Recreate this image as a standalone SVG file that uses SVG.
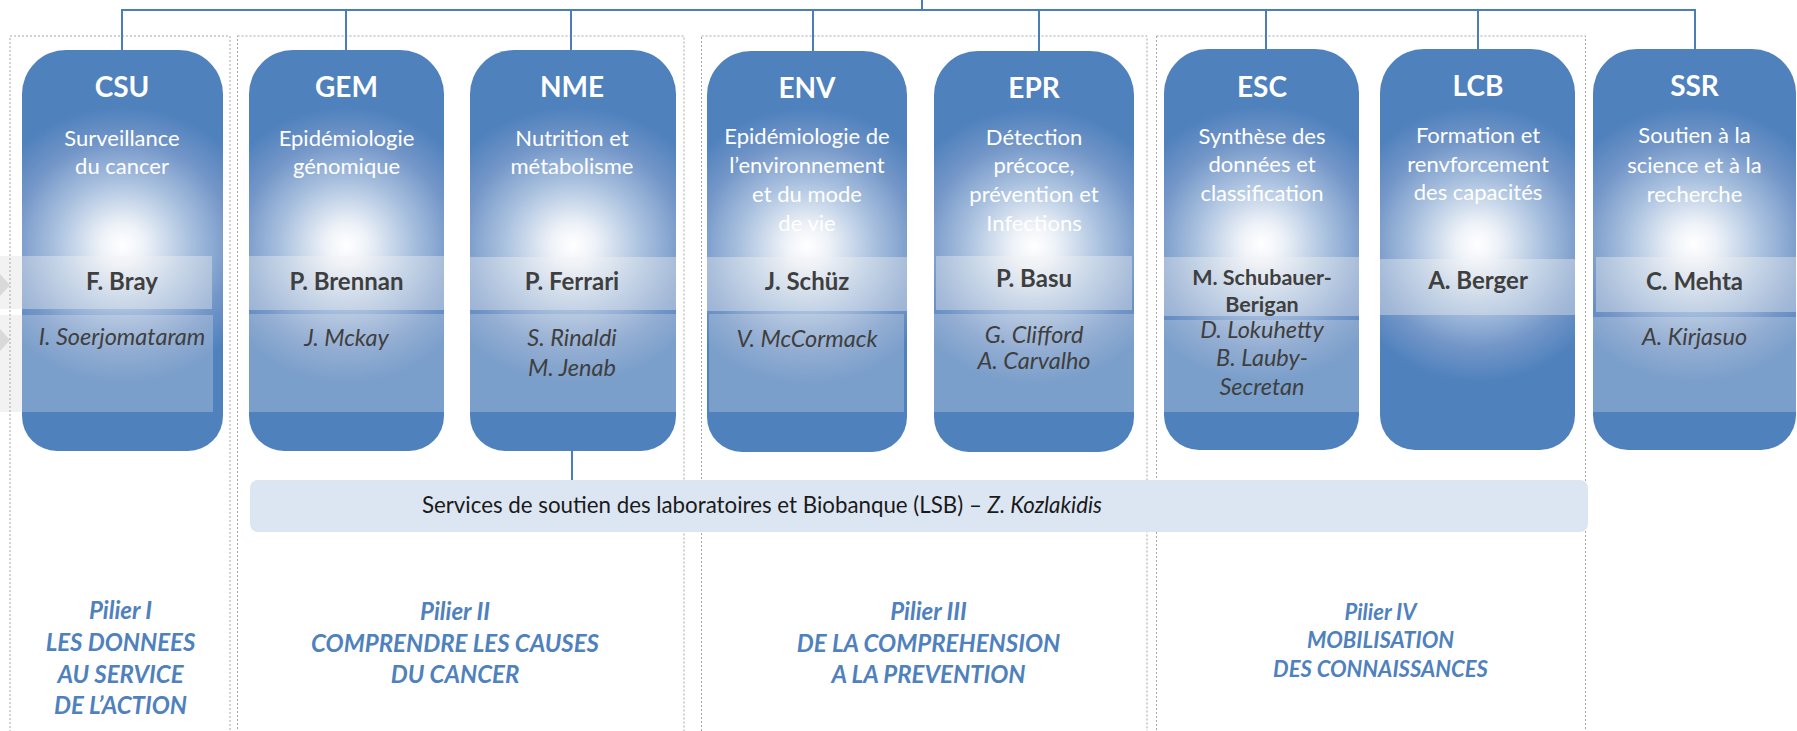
<svg xmlns="http://www.w3.org/2000/svg" width="1797" height="731" viewBox="0 0 1797 731">
<defs>
<radialGradient id="boxGrad" cx="0.5" cy="0.486" r="0.5" gradientTransform="translate(0.5 0.486) scale(1.45 0.69) translate(-0.5 -0.486)">
<stop offset="0" stop-color="#ffffff"/>
<stop offset="0.15" stop-color="#eef2f8"/>
<stop offset="0.45" stop-color="#acc3e0"/>
<stop offset="0.75" stop-color="#7396c8"/>
<stop offset="1" stop-color="#4f81bd"/>
</radialGradient>
<style>
.frame{fill:none;stroke:#a6a6a6;stroke-width:1;stroke-dasharray:2 2}
.conn{fill:none;stroke:#4a7ebb;stroke-width:2}
.box{fill:url(#boxGrad)}
.b1{fill:#f2f2f2;fill-opacity:0.38}
.b2{fill:#f2f2f2;fill-opacity:0.27}
.title{font-family:Lato,"Liberation Sans",sans-serif;font-weight:bold;font-size:28px;fill:#ffffff;text-anchor:middle}
.sub{font-family:Lato,"Liberation Sans",sans-serif;font-size:22px;fill:#ffffff;text-anchor:middle}
.lead{font-family:Lato,"Liberation Sans",sans-serif;font-weight:bold;font-size:24px;fill:#3f3f3f;text-anchor:middle}
.lead2{font-family:Lato,"Liberation Sans",sans-serif;font-weight:bold;font-size:21.5px;fill:#3f3f3f;text-anchor:middle}
.dep{font-family:Lato,"Liberation Sans",sans-serif;font-style:italic;font-size:23.5px;fill:#3f3f3f;text-anchor:middle}
.pil{font-family:Lato,"Liberation Sans",sans-serif;font-weight:bold;font-style:italic;font-size:24px;fill:#4f81bd;text-anchor:middle}
.pil4{font-family:Lato,"Liberation Sans",sans-serif;font-weight:bold;font-style:italic;font-size:22px;fill:#4f81bd;text-anchor:middle}
.lsb{font-family:Lato,"Liberation Sans",sans-serif;font-size:22.3px;fill:#1a1a1a;text-anchor:middle}
</style>
</defs>
<rect width="1797" height="731" fill="#ffffff"/>

<g id="side-marks">
<rect x="0" y="256" width="22" height="53" fill="#f2f2f2"/>
<rect x="0" y="315" width="22" height="97" fill="#f2f2f2"/>
<polygon points="0,274 10,285 0,296" fill="#d9d9d9"/>
<polygon points="0,329 10,340 0,351" fill="#d9d9d9"/>
</g>

<g id="pillar-frames">
<rect class="frame" x="10" y="36" width="220" height="720"/>
<rect class="frame" x="237.5" y="36" width="446.5" height="720"/>
<rect class="frame" x="701.5" y="36" width="445.5" height="720"/>
<rect class="frame" x="1156.5" y="36" width="429" height="720"/>
</g>

<g id="connectors">
<line class="conn" x1="922" y1="0" x2="922" y2="10"/>
<line class="conn" x1="121" y1="10" x2="1696" y2="10"/>
<line class="conn" x1="122" y1="10" x2="122" y2="52"/>
<line class="conn" x1="346" y1="10" x2="346" y2="52"/>
<line class="conn" x1="571" y1="10" x2="571" y2="56"/>
<line class="conn" x1="813" y1="10" x2="813" y2="52"/>
<line class="conn" x1="1039" y1="10" x2="1039" y2="52"/>
<line class="conn" x1="1266" y1="10" x2="1266" y2="52"/>
<line class="conn" x1="1478" y1="10" x2="1478" y2="52"/>
<line class="conn" x1="1695" y1="10" x2="1695" y2="52"/>
<line class="conn" x1="572" y1="450" x2="572" y2="481"/>
</g>

<g id="CSU">
<path class="box" d="M22,94 A44,44 0 0 1 66,50 H179 A44,44 0 0 1 223,94 V416 A35,35 0 0 1 188,451 H57 A35,35 0 0 1 22,416 Z"/>
<rect class="b1" x="22" y="256" width="190" height="53"/>
<rect class="b2" x="22" y="315" width="191" height="97"/>
<text class="title" x="122" y="97">CSU</text>
<text class="sub" x="122" y="146">Surveillance</text>
<text class="sub" x="122" y="174">du cancer</text>
<text class="lead" x="122" y="290">F. Bray</text>
<text class="dep" x="122" y="345">I. Soerjomataram</text>
</g>

<g id="GEM">
<path class="box" d="M249,94 A44,44 0 0 1 293,50 H400 A44,44 0 0 1 444,94 V416 A35,35 0 0 1 409,451 H284 A35,35 0 0 1 249,416 Z"/>
<rect class="b1" x="249" y="256" width="195" height="54"/>
<rect class="b2" x="249" y="314" width="195" height="98"/>
<text class="title" x="346.5" y="97">GEM</text>
<text class="sub" x="346.5" y="146">Epidémiologie</text>
<text class="sub" x="346.5" y="174">génomique</text>
<text class="lead" x="346.5" y="290">P. Brennan</text>
<text class="dep" x="346.5" y="346">J. Mckay</text>
</g>

<g id="NME">
<path class="box" d="M470,94 A44,44 0 0 1 514,50 H632 A44,44 0 0 1 676,94 V416 A35,35 0 0 1 641,451 H505 A35,35 0 0 1 470,416 Z"/>
<rect class="b1" x="470" y="257" width="206" height="53"/>
<rect class="b2" x="470" y="314" width="206" height="98"/>
<text class="title" x="572" y="97">NME</text>
<text class="sub" x="572" y="146">Nutrition et</text>
<text class="sub" x="572" y="174">métabolisme</text>
<text class="lead" x="572" y="290">P. Ferrari</text>
<text class="dep" x="572" y="346">S. Rinaldi</text>
<text class="dep" x="572" y="376">M. Jenab</text>
</g>

<g id="ENV">
<path class="box" d="M707,95 A44,44 0 0 1 751,51 H863 A44,44 0 0 1 907,95 V417 A35,35 0 0 1 872,452 H742 A35,35 0 0 1 707,417 Z"/>
<rect class="b1" x="707" y="257" width="200" height="54"/>
<rect class="b2" x="709" y="314" width="195" height="98"/>
<text class="title" x="807" y="98">ENV</text>
<text class="sub" x="807" y="144">Epidémiologie de</text>
<text class="sub" x="807" y="173">l’environnement</text>
<text class="sub" x="807" y="202">et du mode</text>
<text class="sub" x="807" y="231">de vie</text>
<text class="lead" x="807" y="290">J. Schüz</text>
<text class="dep" x="807" y="347">V. McCormack</text>
</g>

<g id="EPR">
<path class="box" d="M934,95 A44,44 0 0 1 978,51 H1090 A44,44 0 0 1 1134,95 V417 A35,35 0 0 1 1099,452 H969 A35,35 0 0 1 934,417 Z"/>
<rect class="b1" x="936" y="256" width="196" height="54"/>
<rect class="b2" x="934" y="314" width="200" height="98"/>
<text class="title" x="1034" y="98">EPR</text>
<text class="sub" x="1034" y="145">Détection</text>
<text class="sub" x="1034" y="173">précoce,</text>
<text class="sub" x="1034" y="202">prévention et</text>
<text class="sub" x="1034" y="231">Infections</text>
<text class="lead" x="1034" y="287">P. Basu</text>
<text class="dep" x="1034" y="343">G. Clifford</text>
<text class="dep" x="1034" y="369">A. Carvalho</text>
</g>

<g id="ESC">
<path class="box" d="M1164,93 A44,44 0 0 1 1208,49 H1315 A44,44 0 0 1 1359,93 V415 A35,35 0 0 1 1324,450 H1199 A35,35 0 0 1 1164,415 Z"/>
<rect class="b1" x="1164" y="257" width="195" height="59"/>
<rect class="b2" x="1164" y="320" width="195" height="92"/>
<text class="title" x="1262" y="97">ESC</text>
<text class="sub" x="1262" y="144">Synthèse des</text>
<text class="sub" x="1262" y="172">données et</text>
<text class="sub" x="1262" y="201">classification</text>
<text class="lead2" x="1262" y="285">M. Schubauer-</text>
<text class="lead2" x="1262" y="312">Berigan</text>
<text class="dep" x="1262" y="338">D. Lokuhetty</text>
<text class="dep" x="1262" y="366">B. Lauby-</text>
<text class="dep" x="1262" y="395">Secretan</text>
</g>

<g id="LCB">
<path class="box" d="M1380,93 A44,44 0 0 1 1424,49 H1531 A44,44 0 0 1 1575,93 V415 A35,35 0 0 1 1540,450 H1415 A35,35 0 0 1 1380,415 Z"/>
<rect class="b1" x="1380" y="259" width="195" height="56"/>
<text class="title" x="1478" y="96">LCB</text>
<text class="sub" x="1478" y="143">Formation et</text>
<text class="sub" x="1478" y="172">renvforcement</text>
<text class="sub" x="1478" y="200">des capacités</text>
<text class="lead" x="1478" y="289">A. Berger</text>
</g>

<g id="SSR">
<path class="box" d="M1593,93 A44,44 0 0 1 1637,49 H1752 A44,44 0 0 1 1796,93 V415 A35,35 0 0 1 1761,450 H1628 A35,35 0 0 1 1593,415 Z"/>
<rect class="b1" x="1596" y="257" width="200" height="55"/>
<rect class="b2" x="1593" y="317" width="203" height="95"/>
<text class="title" x="1694.5" y="96">SSR</text>
<text class="sub" x="1694.5" y="143">Soutien à la</text>
<text class="sub" x="1694.5" y="173">science et à la</text>
<text class="sub" x="1694.5" y="202">recherche</text>
<text class="lead" x="1694.5" y="290">C. Mehta</text>
<text class="dep" x="1694.5" y="345">A. Kirjasuo</text>
</g>

<g id="LSB">
<rect x="250" y="480" width="1338" height="52" rx="8" fill="#dce6f2"/>
<text class="lsb" x="762" y="513">Services de soutien des laboratoires et Biobanque (LSB) – <tspan font-style="italic">Z. Kozlakidis</tspan></text>
</g>

<g id="pillar-labels">
<text class="pil" x="120.5" y="619">Pilier I</text>
<text class="pil" x="120.5" y="651">LES DONNEES</text>
<text class="pil" x="120.5" y="683">AU SERVICE</text>
<text class="pil" x="120.5" y="714">DE L’ACTION</text>
<text class="pil" x="455" y="620">Pilier II</text>
<text class="pil" x="455" y="652">COMPRENDRE LES CAUSES</text>
<text class="pil" x="455" y="683">DU CANCER</text>
<text class="pil" x="928.5" y="620">Pilier III</text>
<text class="pil" x="928.5" y="652">DE LA COMPREHENSION</text>
<text class="pil" x="928.5" y="683">A LA PREVENTION</text>
<text class="pil4" x="1380.5" y="620">Pilier IV</text>
<text class="pil4" x="1380.5" y="648">MOBILISATION</text>
<text class="pil4" x="1380.5" y="677">DES CONNAISSANCES</text>
</g>
</svg>
